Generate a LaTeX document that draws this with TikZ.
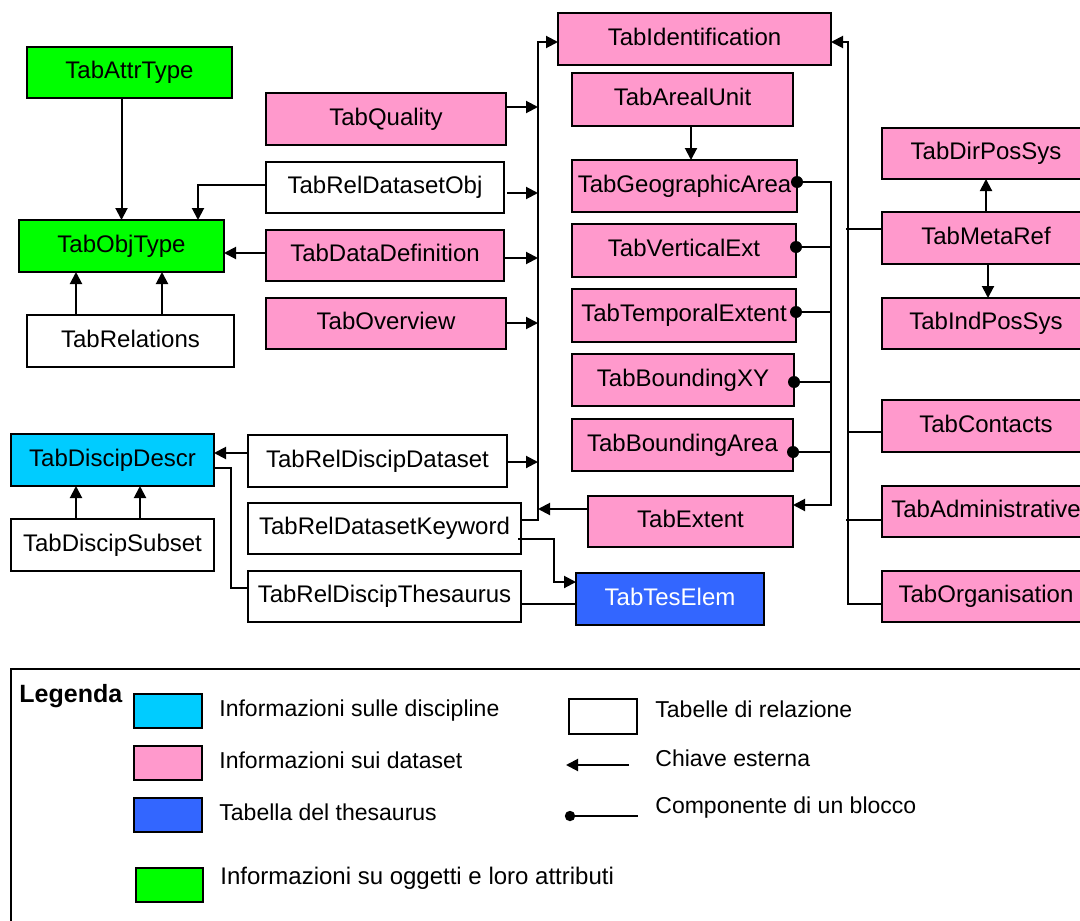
\documentclass[tikz,border=0pt]{standalone}
\usepackage{fontspec}
\setmainfont{Liberation Sans}
\usetikzlibrary{arrows.meta}
\definecolor{dspink}{HTML}{FF99CC}
\definecolor{objgreen}{HTML}{00FF00}
\definecolor{disccyan}{HTML}{00CCFF}
\definecolor{thesblue}{HTML}{3366FF}
\begin{document}
\begin{tikzpicture}[x=0.5pt,y=-0.5pt,
  font=\fontsize{12}{14}\selectfont,
  tbl/.style={draw, line width=1pt, inner sep=0pt, outer sep=0pt,
              text height=6.2pt, text depth=0pt},
  box/.style args={#1:#2:#3:#4}{minimum width={(#3-#1)*0.5pt},
              minimum height={(#4-#2)*0.5pt}, at={({(#1+#3)/2},{(#2+#4)/2})}},
  pinkt/.style={tbl, fill=dspink},
  greent/.style={tbl, fill=objgreen},
  cyant/.style={tbl, fill=disccyan},
  bluet/.style={tbl, fill=thesblue, text=white},
  relt/.style={tbl, fill=white},
  link/.style={line width=1pt},
  fk/.style={link, -{Triangle[length=6pt,width=6pt]}},
  legtext/.style={anchor=base west, inner sep=0pt, font=\fontsize{11.5}{14}\selectfont},
]
\clip (0,0) rectangle (1080,920);
\fill[white] (0,0) rectangle (1080,920);

% ---- object / attribute tables
\node[greent, box=27:47:232:98] (attr) {TabAttrType};
\node[greent, box=19:220:224:272] (objt) {TabObjType};
\node[relt, box=27:315:234:367] (rels) {TabRelations};

% ---- dataset tables, left column
\node[pinkt, box=266:93:506:145] (qual) {TabQuality};
\node[relt, box=266:162:504:213] (rdo) {TabRelDatasetObj};
\node[pinkt, box=266:230:504:281] (ddef) {TabDataDefinition};
\node[pinkt, box=266:298:506:349] (over) {TabOverview};

% ---- identification block
\node[pinkt, box=558:13:831:65] (ident) {TabIdentification};
\node[pinkt, box=572:73:793:126] (areal) {TabArealUnit};
\node[pinkt, box=572:160:797:212] (geo) {TabGeographicArea};
\node[pinkt, box=572:224:796:277] (vert) {TabVerticalExt};
\node[pinkt, box=572:289:796:342] (temp) {TabTemporalExtent};
\node[pinkt, box=572:354:794:406] (bxy) {TabBoundingXY};
\node[pinkt, box=572:419:793:471] (barea) {TabBoundingArea};
\node[pinkt, box=588:496:793:547] (ext) {TabExtent};
\node[bluet, box=576:573:764:625] (tes) {TabTesElem};

% ---- right column
\node[pinkt, box=882:128:1090:179] (dir) {TabDirPosSys};
\node[pinkt, box=882:212:1090:264] (meta) {TabMetaRef};
\node[pinkt, box=882:298:1090:349] (ind) {TabIndPosSys};
\node[pinkt, box=882:400:1090:452] (cont) {TabContacts};
\node[pinkt, box=882:486:1090:537] (adm) {TabAdministrative};
\node[pinkt, box=882:571:1090:622] (org) {TabOrganisation};

% ---- discipline tables
\node[cyant, box=11:434:214:486] (dsc) {TabDiscipDescr};
\node[relt, box=11:519:214:571] (dss) {TabDiscipSubset};
\node[relt, box=248:435:507:487] (rdd) {TabRelDiscipDataset};
\node[relt, box=248:503:521:554] (rdk) {TabRelDatasetKeyword};
\node[relt, box=248:571:521:622] (rdt) {TabRelDiscipThesaurus};

% ---- bus corners
\coordinate (lbusb) at (538,520);
\coordinate (lbust) at (538,42);
\coordinate (cbust) at (831,182);
\coordinate (cbusb) at (831,505);
\coordinate (rbusb) at (848,604);
\coordinate (rbust) at (848,42);

% ---- object links
\draw[fk] (attr.south -| objt.north) -- (objt.north);
\draw[fk] (rels.north -| 76,0) -- (objt.south -| 76,0);
\draw[fk] (rels.north -| 162,0) -- (objt.south -| 162,0);
\draw[fk] (rdo.west |- 0,185) -| (objt.north -| 198,0);
\draw[fk] (ddef.west |- 0,253) -- (objt.east |- 0,253);

% ---- left bus into TabIdentification
\draw[fk] (rdk.east |- lbusb) -- (lbusb) -- (lbust) -- (ident.west |- lbust);
\draw[fk] (qual.east |- 0,107) -- (lbust |- 0,107);
\draw[fk] (rdo.east |- 0,193) ++(3,0) -- (lbust |- 0,193);
\draw[fk] (ddef.east |- 0,258) -- (lbust |- 0,258);
\draw[fk] (over.east |- 0,323) -- (lbust |- 0,323);
\draw[fk] (rdd.east |- 0,462) -- (lbust |- 0,462);
\draw[fk] (ext.west |- 0,509) -- (lbust |- 0,509);

% ---- areal unit
\draw[fk] (areal.south -| 691,0) -- (geo.north -| 691,0);

% ---- extent block components
\draw[fk] (geo.east |- cbust) -- (cbust) -- (cbusb) -- (ext.east |- cbusb);
\draw[link] (vert.east |- 0,247) -- (cbust |- 0,247);
\draw[link] (temp.east |- 0,312) -- (cbust |- 0,312);
\draw[link] (bxy.east |- 0,382) -- (cbust |- 0,382);
\draw[link] (barea.east |- 0,452) -- (cbust |- 0,452);
\foreach \n/\yy in {geo/182, vert/247, temp/312, bxy/382, barea/452}
  \fill (\n.east |- 0,\yy) circle[radius=3pt];

% ---- right bus into TabIdentification
\draw[fk] (org.west |- rbusb) -- (rbusb) -- (rbust) -- (ident.east |- rbust);
\draw[link] (meta.west |- 0,229) -- (846,229);
\draw[link] (cont.west |- 0,432) -- (rbust |- 0,432);
\draw[link] (adm.west |- 0,520) -- (846,520);
\draw[fk] (meta.north -| 986,0) -- (dir.south -| 986,0);
\draw[fk] (meta.south -| 988,0) -- (ind.north -| 988,0);

% ---- discipline links
\draw[fk] (dss.north -| 76,0) -- (dsc.south -| 76,0);
\draw[fk] (dss.north -| 140,0) -- (dsc.south -| 140,0);
\draw[fk] (rdd.west |- 0,453) -- (dsc.east |- 0,453);
\draw[link] (dsc.east |- 0,468) -- (231,468) -- (231,588) -- (rdt.west |- 0,588);

% ---- thesaurus links
\draw[fk] (rdk.east |- 0,539) ++(-3,0) -- (554,539) -- (554,582) -- (tes.west |- 0,582);
\draw[link] (rdt.east |- 0,604) -- (tes.west |- 0,604);

% ---- legend
\draw[line width=1pt] (11,669) rectangle (1100,940);
\node[anchor=base west, inner sep=0pt, font=\fontsize{12.5}{14}\selectfont\bfseries] (legt) at (19,702) {Legenda};
\node[cyant, box=134:694:202:728] (sw1) {};
\node[pinkt, box=134:746:202:780] (sw2) {};
\node[bluet, box=134:798:202:832] (sw3) {};
\node[greent, box=136:868:203:902] (sw4) {};
\node[relt, box=569:699:637:734] (sw5) {};
\node[legtext] (l1) at (219,716) {Informazioni sulle discipline};
\node[legtext] (l2) at (219,768) {Informazioni sui dataset};
\node[legtext] (l3) at (219,820) {Tabella del thesaurus};
\node[legtext, font=\fontsize{12}{14}\selectfont] (l4) at (220,884) {Informazioni su oggetti e loro attributi};
\node[legtext] (l5) at (655,717) {Tabelle di relazione};
\node[legtext] (l6) at (655,766) {Chiave esterna};
\node[legtext] (l7) at (655,813) {Componente di un blocco};
\coordinate (fka) at (629,765);
\coordinate (fkb) at (566,765);
\draw[fk] (fka) -- (fkb);
\coordinate (cpa) at (570,816);
\coordinate (cpb) at (638,816);
\draw[link] (cpa) -- (cpb);
\fill (cpa) circle[radius=2.6pt];
\end{tikzpicture}
\end{document}
